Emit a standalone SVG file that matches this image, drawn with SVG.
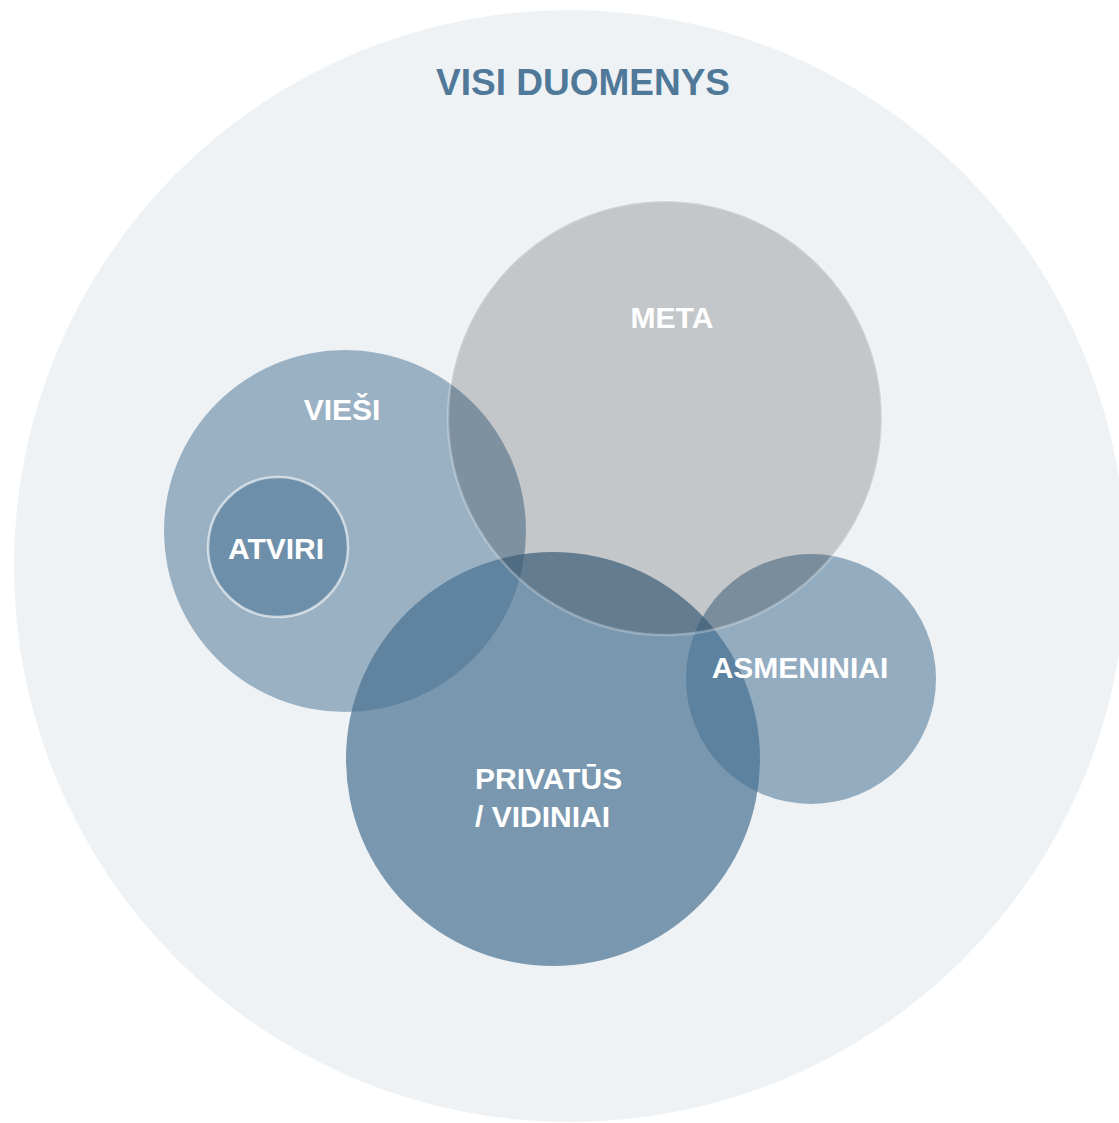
<svg xmlns="http://www.w3.org/2000/svg" width="1119" height="1123" viewBox="0 0 1119 1123">
<style>
.lbl{font-family:"Liberation Sans",Arial,sans-serif;font-weight:bold;font-size:30px;fill:#ffffff}
.title{font-family:"Liberation Sans",Arial,sans-serif;font-weight:bold;font-size:37px;fill:#4f7899}
.blue{fill:#477092}
</style>
<rect width="1119" height="1123" fill="#ffffff"/>
<g id="visi">
<circle cx="570" cy="566" r="556" fill="#eef2f5"/>
<text class="title" x="583" y="95" text-anchor="middle">VISI DUOMENYS</text>
</g>
<g id="viesi">
<circle class="blue" cx="345" cy="531" r="181" fill-opacity="0.505"/>
<text class="lbl" x="342" y="420" text-anchor="middle">VIEŠI</text>
</g>
<g id="atviri">
<circle class="blue" cx="278" cy="547" r="70" fill-opacity="0.52" stroke="#ffffff" stroke-opacity="0.6" stroke-width="2.5"/>
<text class="lbl" x="276" y="559" text-anchor="middle">ATVIRI</text>
</g>
<g id="privatus">
<circle class="blue" cx="553" cy="759" r="207" fill-opacity="0.7"/>
<text class="lbl" x="475" y="789">PRIVATŪS</text>
<text class="lbl" x="475" y="827">/ VIDINIAI</text>
</g>
<g id="asmeniniai">
<circle class="blue" cx="811" cy="679" r="125" fill-opacity="0.54"/>
<text class="lbl" x="800" y="678" text-anchor="middle">ASMENINIAI</text>
</g>
<g id="meta">
<circle cx="665" cy="418" r="217" fill="#000000" fill-opacity="0.175" stroke="#ffffff" stroke-opacity="0.28" stroke-width="2.5"/>
<text class="lbl" x="672" y="328" text-anchor="middle">META</text>
</g>
<g id="connectors"></g>
</svg>
